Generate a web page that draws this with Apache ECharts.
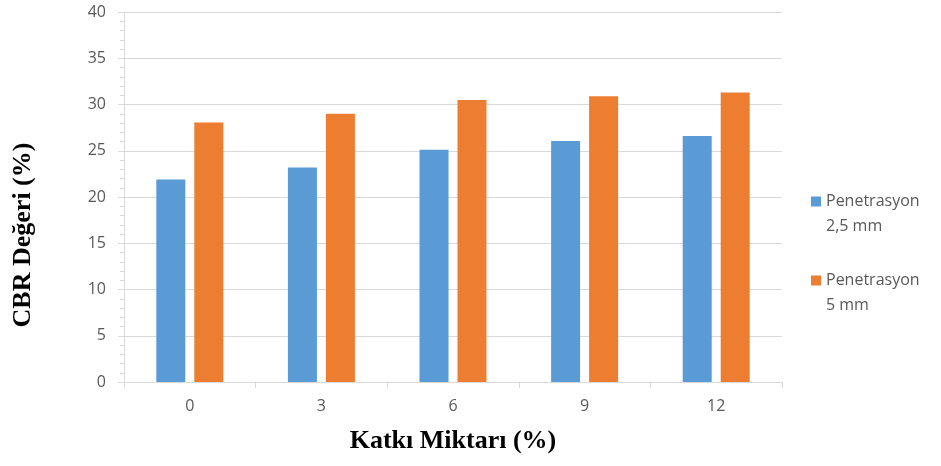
<!DOCTYPE html>
<html>
<head>
<meta charset="utf-8">
<script src="https://cdn.jsdelivr.net/npm/echarts@6/dist/echarts.min.js"></script>
<style>html,body{margin:0;padding:0;background:#fff}#c{width:941px;height:466px}</style>
</head>
<body>
<div id="c"></div>
<script>
var categories = ['0', '3', '6', '9', '12'];
var pen25 = [21.9, 23.2, 25.1, 26.05, 26.6];
var pen5 = [28.05, 29.0, 30.5, 30.9, 31.3];
var seriesNames = ['Penetrasyon\n2,5 mm', 'Penetrasyon\n5 mm'];
var yTicks = { min: 0, max: 40, interval: 5 };

var chart = echarts.init(document.getElementById('c'));
chart.setOption({
  animation: false,
  backgroundColor: '#fff',
  grid: { left: 124, right: 159, top: 12, bottom: 84 },
  legend: {
    orient: 'vertical',
    left: 806,
    top: 159,
    itemWidth: 10,
    itemHeight: 10,
    itemGap: 4,
    icon: 'rect',
    formatter: function (n) { return ' \n' + n; },
    textStyle: { fontFamily: 'Open Sans', fontSize: 16, color: '#595959', lineHeight: 25 },
    data: seriesNames
  },
  xAxis: {
    type: 'category',
    data: categories,
    name: 'Katkı Miktarı (%)',
    nameLocation: 'middle',
    nameGap: 46,
    nameTextStyle: { fontFamily: 'Liberation Serif', fontWeight: 'bold', fontSize: 26, color: '#000' },
    axisLine: { lineStyle: { color: '#d9d9d9' } },
    axisTick: { show: true, length: 6, lineStyle: { color: '#d9d9d9' } },
    axisLabel: { fontFamily: 'Open Sans', fontSize: 16, color: '#595959', margin: 16 }
  },
  yAxis: {
    type: 'value',
    min: yTicks.min, max: yTicks.max, interval: yTicks.interval,
    name: 'CBR Değeri (%)',
    nameLocation: 'middle',
    nameGap: 88,
    nameTextStyle: { fontFamily: 'Liberation Serif', fontWeight: 'bold', fontSize: 26, color: '#000', padding: [0, 76, 0, 0] },
    axisLine: { show: true, lineStyle: { color: '#d9d9d9' } },
    axisTick: { show: true, length: 6, lineStyle: { color: '#d9d9d9' } },
    minorTick: { show: true, splitNumber: 5, length: 4, lineStyle: { color: '#d9d9d9' } },
    splitLine: { lineStyle: { color: '#d9d9d9' } },
    axisLabel: { fontFamily: 'Open Sans', fontSize: 16, color: '#595959', margin: 18 }
  },
  series: [
    { name: seriesNames[0], type: 'bar', data: pen25, barWidth: 29, barGap: '31%', itemStyle: { color: '#5b9bd5' } },
    { name: seriesNames[1], type: 'bar', data: pen5, barWidth: 29, barGap: '31%', itemStyle: { color: '#ed7d31' } }
  ]
});
</script>
</body>
</html>
